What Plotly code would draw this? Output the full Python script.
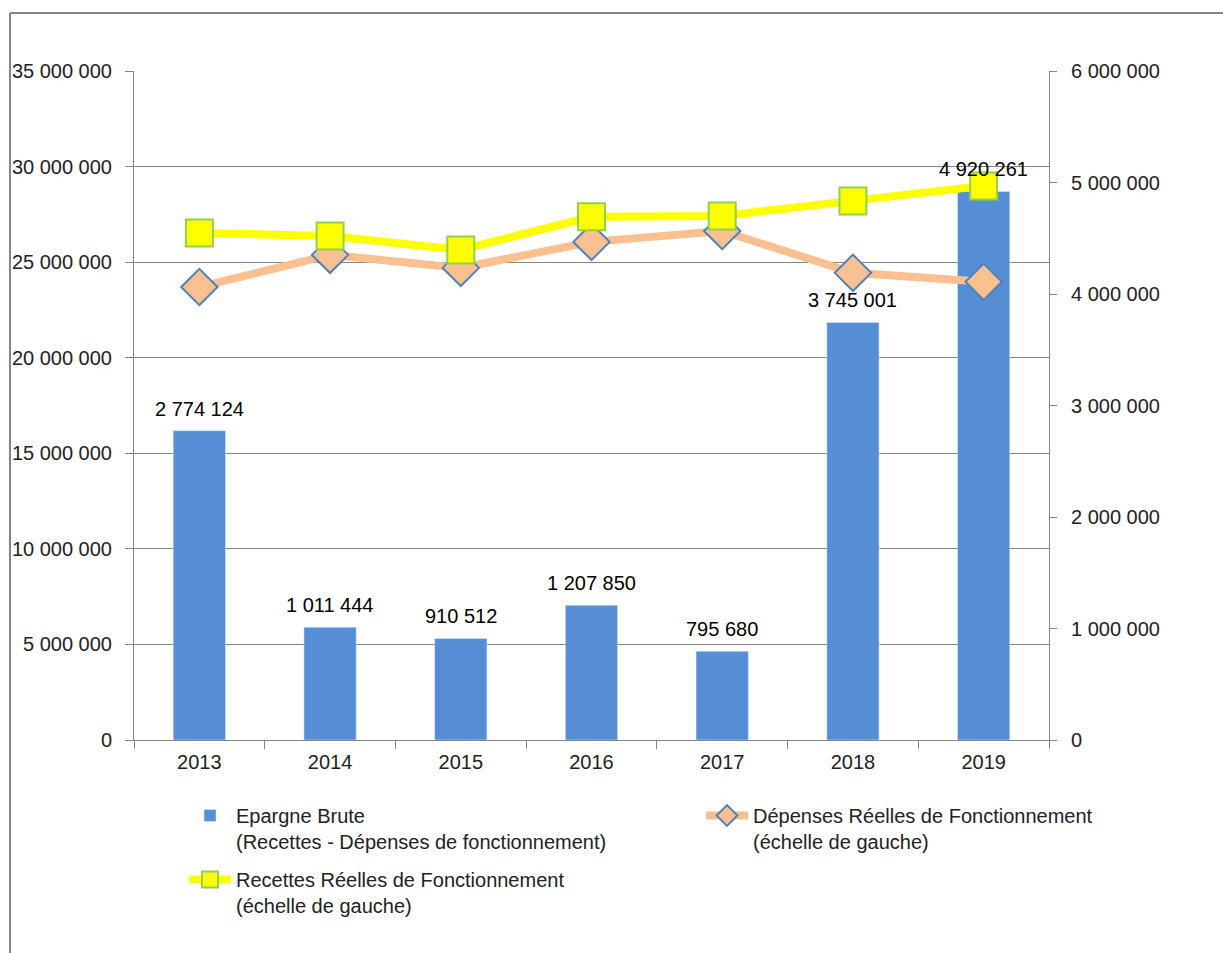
import plotly.graph_objects as go

years = ["2013", "2014", "2015", "2016", "2017", "2018", "2019"]
epargne_brute = [2774124, 1011444, 910512, 1207850, 795680, 3745001, 4920261]
depenses = [23700000, 25380000, 24700000, 26060000, 26630000, 24440000, 23970000]
recettes = [26530000, 26370000, 25640000, 27370000, 27420000, 28200000, 28990000]

left_ticks = [0, 5000000, 10000000, 15000000, 20000000, 25000000, 30000000, 35000000]
right_ticks = [0, 1000000, 2000000, 3000000, 4000000, 5000000, 6000000]

FONT = "Liberation Sans Narrow, Liberation Sans, Arial, sans-serif"
FS = 20
W, H = 1223, 953
L, R, T, B = 134, 174, 71, 213
pw, ph = W - L - R, H - T - B


def px(x):
    return (x - L) / pw


def py(y):
    return (H - B - y) / ph


def fmt(v):
    return f"{v:,}".replace(",", " ")


fig = go.Figure()

fig.add_trace(go.Bar(
    x=years, y=epargne_brute, yaxis="y",
    name="Epargne Brute<br>(Recettes - Dépenses de fonctionnement)",
    marker=dict(color="#558ED5"),
    width=0.4,
    legend="legend", legendgroup="a",
))

fig.add_trace(go.Scatter(
    x=years, y=depenses, yaxis="y2", mode="lines+markers",
    name="Dépenses Réelles de Fonctionnement<br>(échelle de gauche)",
    line=dict(color="#FAC090", width=8),
    marker=dict(symbol="diamond", size=28, color="#FAC090",
                line=dict(color="#4F81BD", width=2)),
    cliponaxis=False,
    legend="legend2", legendgroup="b",
))

fig.add_trace(go.Scatter(
    x=years, y=recettes, yaxis="y2", mode="lines+markers",
    name="Recettes Réelles de Fonctionnement<br>(échelle de gauche)",
    line=dict(color="#FFFF00", width=8),
    marker=dict(symbol="square", size=27, color="#FFFF00",
                line=dict(color="#92D050", width=2)),
    cliponaxis=False,
    legend="legend", legendgroup="c",
))

# bar value labels, anchored on each category (by index) and bar value
annotations = [
    dict(x=i, y=v, xref="x", yref="y", text=fmt(v), showarrow=False,
         yanchor="middle", yshift=22,
         font=dict(family=FONT, size=FS, color="#000000"))
    for i, v in enumerate(epargne_brute)
]

legend_common = dict(
    orientation="v", xanchor="left", yanchor="top", valign="top",
    itemwidth=42, font=dict(size=FS, color="#222222"),
    traceorder="grouped", tracegroupgap=9, bgcolor="rgba(0,0,0,0)",
)

fig.update_layout(
    width=W, height=H,
    margin=dict(l=L, r=R, t=T, b=B, pad=0, autoexpand=False),
    paper_bgcolor="white", plot_bgcolor="white",
    separators=", ",
    font=dict(family=FONT, size=FS, color="#222222"),
    showlegend=True,
    annotations=annotations,
    xaxis=dict(
        type="category", categoryarray=years, categoryorder="array",
        range=[-0.5, len(years) - 0.5], autorange=False,
        showline=True, linecolor="#868686", linewidth=1,
        ticks="outside", tickson="boundaries", ticklen=8, tickcolor="#868686",
        showgrid=False, ticklabelstandoff=4, tickangle=0,
        tickfont=dict(size=FS, color="#222222"),
    ),
    yaxis=dict(
        side="right", range=[0, 6000000], tickvals=right_ticks,
        tickformat=",d", showgrid=False, showline=True, linecolor="#868686",
        ticks="outside", ticklen=7, tickcolor="#868686", zeroline=False,
        ticklabelstandoff=10, tickfont=dict(size=FS, color="#222222"),
    ),
    yaxis2=dict(
        overlaying="y", side="left", range=[0, 35000000], tickvals=left_ticks,
        tickformat=",d", showgrid=True, gridcolor="#868686", gridwidth=1,
        showline=True, linecolor="#868686", ticks="outside", ticklen=8,
        tickcolor="#868686", zeroline=False, ticklabelstandoff=9,
        tickfont=dict(size=FS, color="#222222"),
    ),
    legend=dict(x=px(184), y=py(796), **legend_common),
    legend2=dict(x=px(701), y=py(796), **legend_common),
    shapes=[
        dict(type="line", xref="paper", yref="paper",
             x0=px(10), x1=px(10), y0=py(13), y1=py(953),
             line=dict(color="#868686", width=2)),
        dict(type="line", xref="paper", yref="paper",
             x0=px(10), x1=px(1223), y0=py(13), y1=py(13),
             line=dict(color="#868686", width=2)),
    ],
)

fig.write_html("out.html", config={"displayModeBar": False},
               post_script="document.body.style.margin='0';")
